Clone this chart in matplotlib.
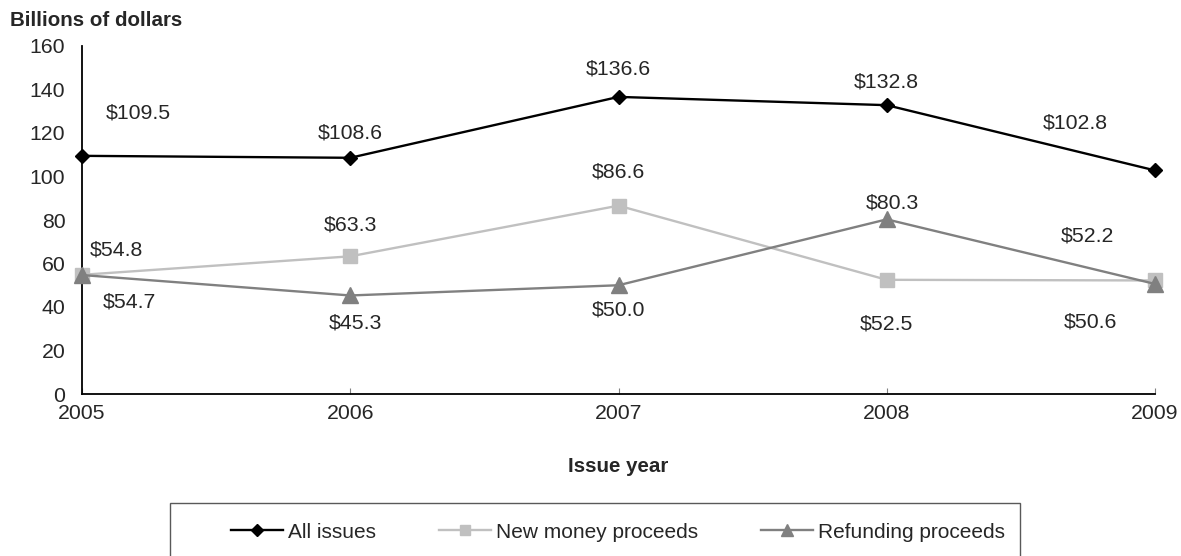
import matplotlib.pyplot as plt
from matplotlib.patches import Rectangle

plt.rcParams['font.family'] = ['Liberation Sans', 'DejaVu Sans']

years = ['2005', '2006', '2007', '2008', '2009']
all_issues = [109.5, 108.6, 136.6, 132.8, 102.8]
new_money = [54.8, 63.3, 86.6, 52.5, 52.2]
refunding = [54.7, 45.3, 50.0, 80.3, 50.6]

# label offsets in pixels (dx, dy) from each point
all_off = [(56, 43), (0, 25), (0, 28), (0, 23), (-80, 47)]
new_off = [(34, 25), (0, 31), (0, 34), (0, -44), (-68, 44)]
ref_off = [(47, -27), (5, -28), (0, -25), (6, 16), (-65, -38)]

text_color = '#262626'
fs = 15.3

fig = plt.figure(figsize=(11.81, 5.56), dpi=100)
ax = fig.add_axes([82 / 1181, 162 / 556, 1073 / 1181, 348 / 556])

x = list(range(len(years)))
l2, = ax.plot(x, new_money, color='#c0c0c0', lw=1.7, marker='s', ms=10.5,
              label='New money proceeds', zorder=3, clip_on=False)
l3, = ax.plot(x, refunding, color='#808080', lw=1.7, marker='^', ms=11,
              label='Refunding proceeds', zorder=4, clip_on=False)
l1, = ax.plot(x, all_issues, color='black', lw=1.7, marker='D', ms=7.5,
              label='All issues', zorder=5, clip_on=False)

for vals, offs in [(all_issues, all_off), (new_money, new_off), (refunding, ref_off)]:
    for i, (v, (dx, dy)) in enumerate(zip(vals, offs)):
        ax.annotate(f'${v:.1f}', (i, v), xytext=(dx, dy), textcoords='offset pixels',
                    ha='center', va='center', fontsize=fs, color=text_color)

ax.set_xlim(0, 4)
ax.set_ylim(0, 160)
ax.set_xticks(x)
ax.set_xticklabels(years)
ax.set_yticks(range(0, 161, 20))
ax.tick_params(axis='y', length=0, pad=12, labelsize=fs, labelcolor=text_color)
ax.tick_params(axis='x', direction='in', length=4, color='#808080', pad=7,
               labelsize=fs, labelcolor=text_color)
for s in ['top', 'right']:
    ax.spines[s].set_visible(False)
for s in ['left', 'bottom']:
    ax.spines[s].set_linewidth(1.3)

fig.text(10 / 1181, 1 - 20 / 556, 'Billions of dollars', fontsize=14.8,
         fontweight='bold', color=text_color, va='center', ha='left')
fig.text(618 / 1181, 1 - 467 / 556, 'Issue year', fontsize=14.8,
         fontweight='bold', color=text_color, va='center', ha='center')

# legend box runs off the bottom edge
fig.patches.append(Rectangle((170 / 1181, -0.05), 850 / 1181, 0.05 + 53 / 556,
                             transform=fig.transFigure, fill=False,
                             edgecolor='#595959', lw=1))
fig.legend(handles=[l1, l2, l3], loc='center', ncol=3,
           bbox_to_anchor=(618 / 1181, 1 - 532 / 556), frameon=False,
           fontsize=15, handlelength=2.5, handletextpad=0.24,
           columnspacing=3.0, labelcolor=text_color, markerscale=0.75)

fig.savefig('out.png', dpi=100)
